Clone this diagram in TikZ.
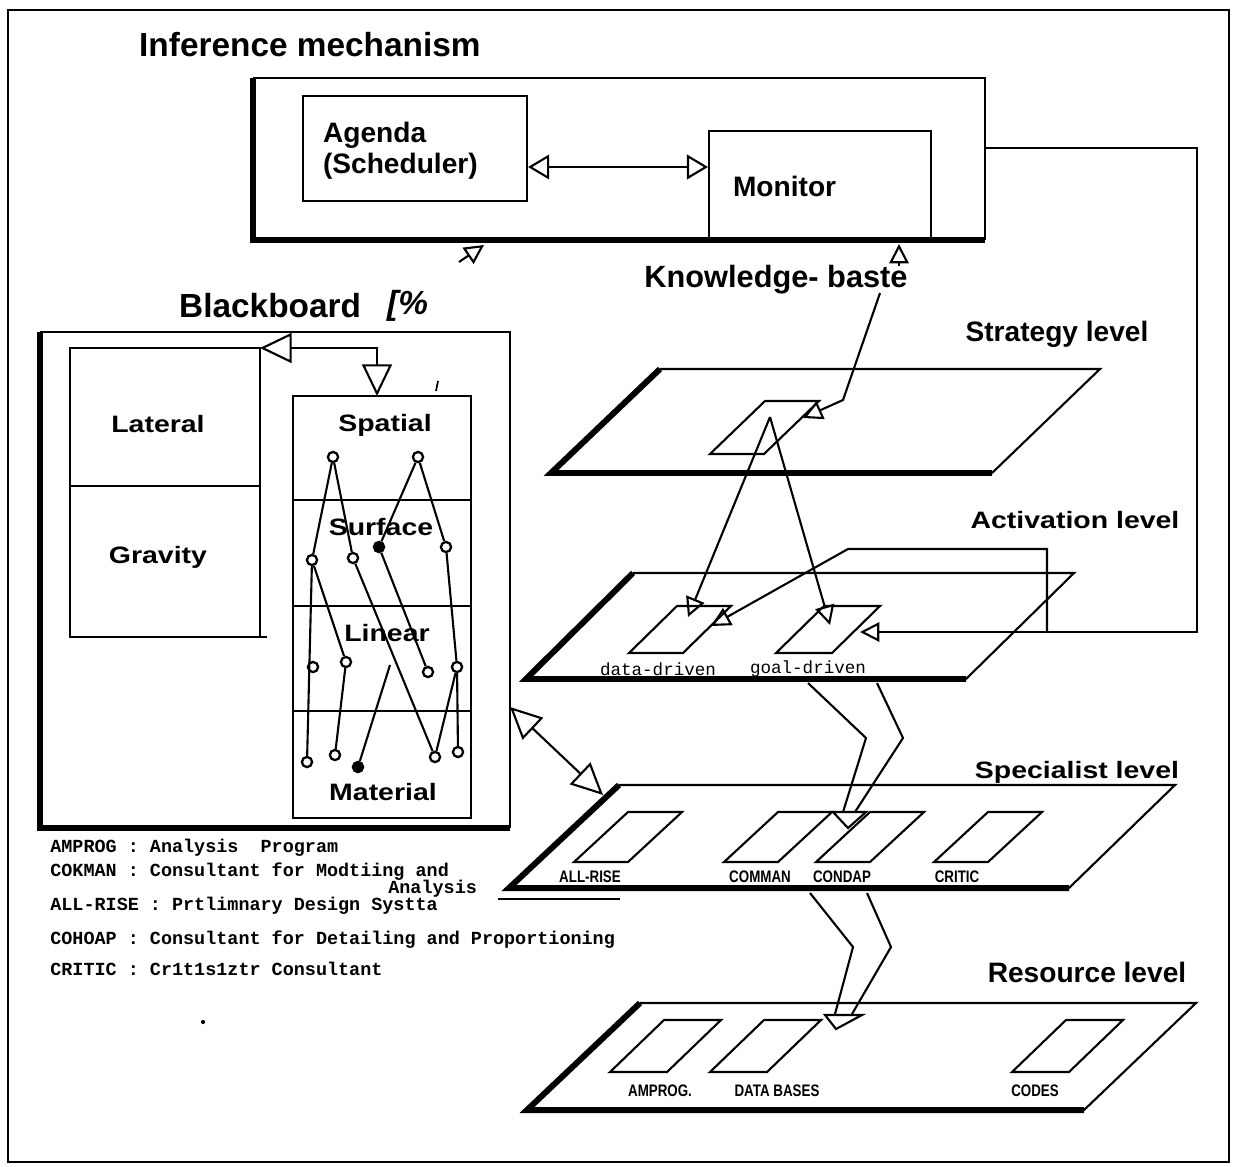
\documentclass[tikz,border=0pt]{standalone}
\usepackage{fontspec}
\setmainfont{Liberation Sans}
\setmonofont{Liberation Mono}
\newfontfamily\widefont[FakeStretch=1.2]{Liberation Sans}
\newfontfamily\narrowfont[FakeStretch=0.8]{Liberation Sans}
\usetikzlibrary{arrows.meta}

% looks used over and over
\tikzset{
  ln/.style={line width=1.2pt},
  heavy/.style={line width=3.4pt},
  title/.style={font=\bfseries\fontsize{19}{22}\selectfont},
  lvl/.style={font=\bfseries\fontsize{16}{17.5}\selectfont},
  widelvl/.style={font=\widefont\bfseries\fontsize{13.5}{16}\selectfont},
  tag/.style={font=\narrowfont\bfseries\fontsize{9.5}{11}\selectfont},
  legend/.style={font=\ttfamily\bfseries\fontsize{10.5}{12}\selectfont, anchor=west,
                 inner sep=0pt, text height=7pt, text depth=1.5pt},
  hollow/.style={-{Triangle[open,length=11pt,width=11pt]}},
  hollowboth/.style={{Triangle[open,length=12pt,width=14pt]}-{Triangle[open,length=12pt,width=14pt]}},
  bighollowboth/.style={{Triangle[open,length=18pt,width=17pt]}-{Triangle[open,length=18pt,width=17pt]}},
  dot/.style={circle, draw, line width=1.3pt, inner sep=0pt, minimum size=5.8pt},
}
% a small slanted tile: top-left corner, top width, slant, height
\newcommand{\slab}[4]{\draw[ln] (#1) -- ++(#2,0) -- ++(-#3,#4) -- ++(-#2,0) -- cycle;}

\begin{document}
\begin{tikzpicture}[x=0.02cm,y=-0.02cm]
      \useasboundingbox (0,0) rectangle (1236,1166);
      \draw[line width=1pt] (8,10) rectangle (1229,1162);

      % inference mechanism
      \node[title, anchor=west] (inftitle) at (133,45) {Inference mechanism};
      \draw[ln] (253,78) -- (985,78) -- (985,240);
      \draw[heavy] (985,240) -- (253,240) -- (253,78);
      \node[draw, ln, minimum width=4.48cm, minimum height=2.1cm, text width=3.68cm,
            inner xsep=0.4cm, align=left, lvl, anchor=north west] (agenda) at (302,95) {\rule{0pt}{14pt}Agenda\\(Scheduler)};
      \node[draw, ln, minimum width=4.44cm, minimum height=2.2cm, text width=3.48cm,
            inner xsep=0.48cm, align=left, lvl, anchor=north west] (monitor) at (708,130) {Monitor};
      \coordinate (am) at (0,167);
      \draw[ln, hollowboth] (agenda.east |- am) -- (monitor.west |- am);
      \draw[ln, hollow] (459,262) -- (484,245);
      \draw[ln, hollow] (899,266) -- (899,244);

      \node[font=\bfseries\fontsize{17.5}{20}\selectfont] (kb) at (776,280) {Knowledge- baste};

      % strategy level
      \node[lvl] (strat) at (1057,334) {Strategy level};
      \coordinate (sTL) at (660,369); \coordinate (sTR) at (1100,369);
      \coordinate (sBR) at (992,473); \coordinate (sBL) at (551,473);
      \draw[ln] (sBR) -- (sTR) -- (sTL);
      \draw[heavy] (sTL) -- (sBL) -- (sBR);
      \slab{765,401}{54}{55}{53}
      \draw[ln, hollow] (880,293) -- (843,400) -- (803,418);

      % activation level
      \node[widelvl] (act) at (1075,520) {Activation level};
      \coordinate (aTL) at (633,573); \coordinate (aTR) at (1074,573);
      \coordinate (aBR) at (966,679); \coordinate (aBL) at (526,679);
      \draw[ln] (aBR) -- (aTR) -- (aTL);
      \draw[heavy] (aTL) -- (aBL) -- (aBR);
      \slab{677,606}{54}{48}{47}
      \slab{824,606}{56}{48}{47}
      \node[font=\ttfamily\fontsize{10}{12}\selectfont] (dd) at (658,669) {data-driven};
      \node[font=\ttfamily\fontsize{10}{12}\selectfont] (gd) at (808,669) {goal-driven};
      \coordinate (apex) at (770,417);
      \draw[ln, hollow] (apex) -- (688,617);
      \draw[ln, hollow] (apex) -- (830,625);
      \draw[ln, hollow] (985,148) -- (1197,148) -- (1197,632) -- (860,632);
      \draw[ln, hollow] (1047,632) -- (1047,549) -- (848,549) -- (711,626);

      % activation to specialist
      \draw[ln] (808,683) -- (866,738) -- (843,812);
      \draw[ln] (877,683) -- (903,738) -- (855,812);
      \draw[ln] (833,812) -- (866,812) -- (848,828) -- cycle;

      % specialist level
      \node[widelvl] (spec) at (1077,772) {Specialist level};
      \coordinate (pTL) at (619,785); \coordinate (pTR) at (1175,785);
      \coordinate (pBR) at (1069,888); \coordinate (pBL) at (509,888);
      \draw[ln] (pBR) -- (pTR) -- (pTL);
      \draw[heavy] (pTL) -- (pBL) -- (pBR);
      \slab{628,812}{54}{54}{50}
      \slab{778,812}{54}{54}{50}
      \slab{870,812}{54}{54}{50}
      \slab{988,812}{54}{54}{50}
      \node[tag] (allrise) at (590,877) {ALL-RISE};
      \node[tag] (comman) at (760,877) {COMMAN};
      \node[tag] (condap) at (842,877) {CONDAP};
      \node[tag] (critic) at (957,877) {CRITIC};

      % specialist to resource
      \draw[ln] (810,893) -- (853,947) -- (835,1014);
      \draw[ln] (867,893) -- (891,947) -- (852,1014);
      \draw[ln] (825,1015) -- (862,1015) -- (836,1029) -- cycle;

      % resource level
      \node[lvl] (res) at (1087,972) {Resource level};
      \coordinate (rTL) at (640,1003); \coordinate (rTR) at (1196,1003);
      \coordinate (rBR) at (1084,1110); \coordinate (rBL) at (527,1110);
      \draw[ln] (rBR) -- (rTR) -- (rTL);
      \draw[heavy] (rTL) -- (rBL) -- (rBR);
      \slab{664,1020}{57}{54}{52}
      \slab{764,1020}{57}{54}{52}
      \slab{1066,1020}{57}{54}{52}
      \node[tag] (amprog) at (660,1091) {AMPROG.};
      \node[tag] (dbases) at (777,1091) {DATA BASES};
      \node[tag] (codes) at (1035,1091) {CODES};

      % blackboard
      \node[title, anchor=west] (bbtitle) at (173,306) {Blackboard};
      \node[title, anchor=west, font=\bfseries\itshape\fontsize{19}{22}\selectfont] (bbmark) at (381,306) {[\%};
      \draw[ln] (40,332) -- (510,332) -- (510,828);
      \draw[heavy] (510,828) -- (40,828) -- (40,332);
      \draw[ln] (70,348) rectangle (260,637);
      \draw[ln] (70,486) -- (260,486);
      \draw[ln] (260,637) -- (267,637);
      \node[widelvl] (lateral) at (158,424) {Lateral};
      \node[widelvl] (gravity) at (158,557) {Gravity};
      \draw[ln] (293,396) rectangle (471,818);
      \foreach \yy in {500,606,711} \draw[ln] (293,\yy) -- (471,\yy);
      \node[widelvl] (spatial) at (385,425) {Spatial};
      \node[widelvl] (surface) at (381,527) {Surface};
      \node[widelvl] (linear) at (387,633) {Linear};
      \node[widelvl] (material) at (383,792) {Material};
      \draw[ln, bighollowboth] (260,348) -- (377,348) -- (377,396);
      \draw[line width=1pt] (438,381) -- (436,391);

      % nodes of the blackboard net
      \node[dot] (c1) at (333,457) {};
      \node[dot] (c2) at (418,457) {};
      \node[dot] (c3) at (312,560) {};
      \node[dot] (c4) at (353,558) {};
      \node[dot, fill] (c5) at (379,547) {};
      \node[dot] (c6) at (446,547) {};
      \node[dot] (c7) at (313,667) {};
      \node[dot] (c8) at (346,662) {};
      \node[dot] (c9) at (428,672) {};
      \node[dot] (c10) at (457,667) {};
      \node[dot] (c11) at (307,762) {};
      \node[dot] (c12) at (335,755) {};
      \node[dot, fill] (c13) at (358,767) {};
      \node[dot] (c14) at (435,757) {};
      \node[dot] (c15) at (458,752) {};
      \draw[ln] (c1) -- (c3);
      \draw[ln] (c1) -- (c4);
      \draw[ln] (c4) -- (c14);
      \draw[ln] (c2) -- (c5);
      \draw[ln] (c2) -- (c6);
      \draw[ln] (c5) -- (c9);
      \draw[ln] (c6) -- (c10);
      \draw[ln] (c10) -- (c14);
      \draw[ln] (c10) -- (c15);
      \draw[ln] (c3) -- (c11);
      \draw[ln] (c3) -- (c8);
      \draw[ln] (c8) -- (c12);
      \coordinate (cj) at (390,665);
      \draw[ln] (c13) -- (cj);

      \draw[ln, bighollowboth] (510,707) -- (603,795);

      % legend
      \node[legend] (l1) at (50,848) {AMPROG : Analysis\ \ Program};
      \node[legend] (l2) at (50,872) {COKMAN : Consultant for Modtiing and};
      \node[legend] (l3) at (388,889) {Analysis};
      \node[legend] (l4) at (50,906) {ALL-RISE : Prtlimnary Design Systta};
      \node[legend] (l5) at (50,940) {COHOAP : Consultant for Detailing and Proportioning};
      \node[legend] (l6) at (50,971) {CRITIC : Cr1t1s1ztr Consultant};
      \draw[line width=1pt] (498,899) -- (620,899);
      \fill (203,1022) circle (1.2pt);
\end{tikzpicture}
\end{document}
